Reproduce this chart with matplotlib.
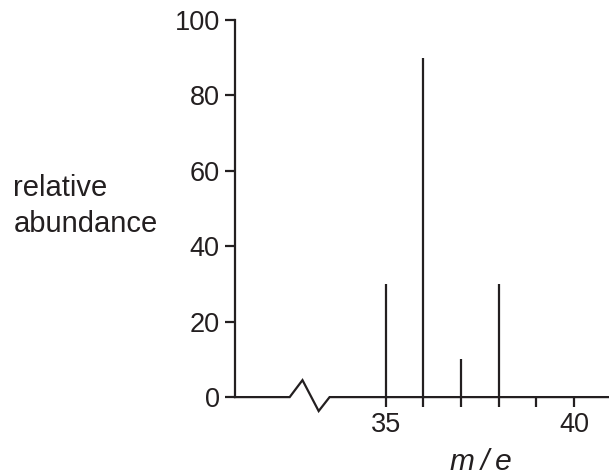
import matplotlib.pyplot as plt

# spektrum masowe (m/e -> względna obfitość)
mass = [35, 36, 37, 38]
abundance = [30, 90, 10, 30]

y_ticks = [0, 20, 40, 60, 80, 100]
x_ticks = [35, 36, 37, 38, 39, 40]
x_ticklabels = ['35', '', '', '', '', '40']

plt.rcParams['font.family'] = ['Liberation Sans', 'DejaVu Sans']

fig = plt.figure(figsize=(6.09, 4.75), dpi=100)
ax = fig.add_axes([0.386, 0.164, 0.614, 0.794])

ax.vlines(mass, 0, abundance, color='#231f20', linewidth=1.6)

ax.set_xlim(31, 40.93)
ax.set_ylim(0, 100)
ax.set_yticks(y_ticks)
ax.set_xticks(x_ticks)
ax.set_xticklabels(x_ticklabels)

for s in ['top', 'right', 'bottom']:
    ax.spines[s].set_visible(False)
ax.spines['left'].set_linewidth(1.6)
ax.spines['left'].set_color('#231f20')

# oś x z przerwą (zygzak)
bx = [31, 32.45, 32.79, 33.22, 33.51, 40.93]
by = [0, 0, 4.5, -3.7, 0, 0]
ax.plot(bx, by, color='#231f20', linewidth=1.6, clip_on=False,
        solid_joinstyle='miter')

ax.tick_params(axis='both', length=7, width=1.6, color='#231f20',
               labelsize=19.5, labelcolor='#231f20')
ax.tick_params(axis='x', pad=4)
ax.tick_params(axis='y', pad=4)

fig.text(0.022, 0.566, 'relative\nabundance', fontsize=21,
         color='#231f20', ha='left', va='center', linespacing=1.35)
fig.text(0.79, 0.0105, 'm\u2009/\u2009e', fontsize=21.5, style='italic',
         color='#231f20', ha='center', va='baseline')

plt.savefig('out.png', dpi=100)
